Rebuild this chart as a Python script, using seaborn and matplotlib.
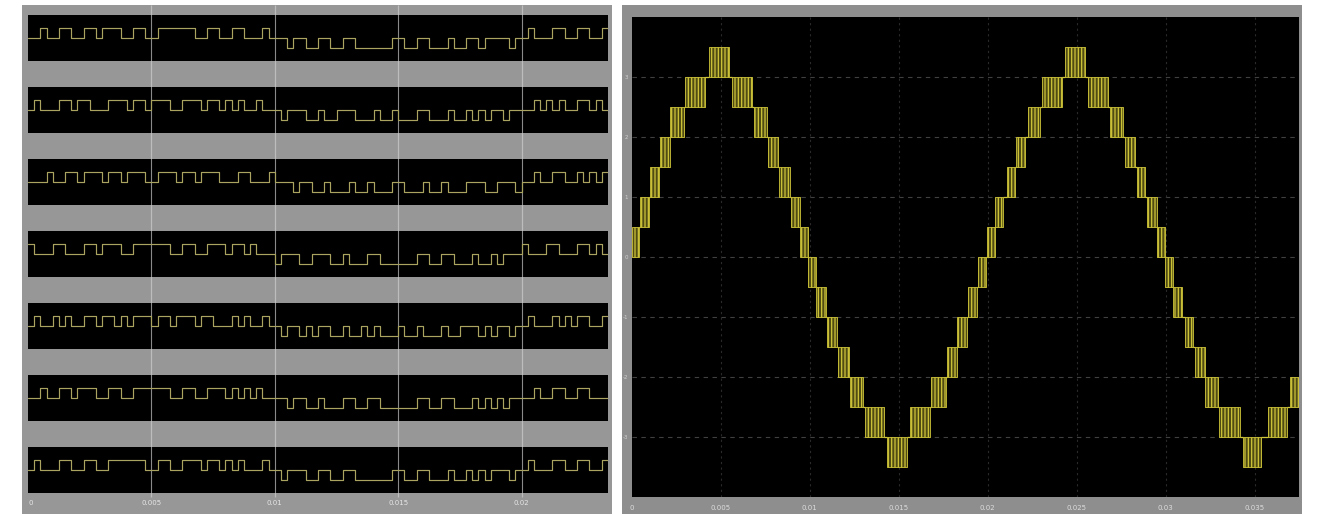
import numpy as np
import pandas as pd
import matplotlib
matplotlib.use("Agg")
import matplotlib.pyplot as plt
from matplotlib.patches import Rectangle
import seaborn as sns

# ---------------- data ----------------
# Left: seven H-bridge gate/output signals, one char per 0.25 ms slot
# '+' = +1, '0' = 0, '-' = -1
slot_ms = 0.25
gate_first_half = [
    "00+00++00++0+++00++00++++++00++00++000+0",
    "0+000++0++000+++0++0+++00+++0++0+0+00+00",
    "000+00++0+++0++0+++00+++0++0+++000++000+",
    "+000++000++0+++00++++++00++00+++0++0+000",
    "0+00+0+00++0++0+0+++0++0+++0++000+0+00+0",
    "00+00++0+++00++00++++++00++00+++0+0+0+00",
    "0+000++00++00++++++00++00+++0++0+0+000+0",
]
gate_second_half = [
    "00-00--00--00------00--00---0--00-0000-0",
    "0-000--0--000---0--0---00---0--0-0-00-00",
    "000-00--0---0--0---00---0--0---000--000-",
    "-000--000--0---00------00--00---0--0-000",
    "0-00-0-00--0--0-0---0--0---0--000-0-00-0",
    "00-00--0---00--00------00--00---0-0-0-00",
    "0-000--00--00------00--00---0--0-0-000-0",
]
gate_tail = [
    "0+000++00++00+",
    "00+0+0+00++0+0",
    "00+00++00+0+0+",
    "+000++000++0+0",
    "0+000+0+0++00+",
    "00+00++00++000",
    "0+000++00++00+",
]
left_ticks_ms = [0, 5, 10, 15, 20]
left_tick_labels = ["0", "0.005", "0.01", "0.015", "0.02"]

# Right: 15-level output voltage; each band is a PWM burst between
# band_low and band_low + 0.5 from band_start to band_end (ms)
band_start_ms = [0.00, 0.45, 1.01, 1.57, 2.13, 2.98, 4.33, 5.62, 6.85, 7.64,
                 8.26, 8.93, 9.44, 9.89, 10.34, 10.96, 11.57, 12.25, 13.09,
                 14.33, 15.62, 16.80, 17.70, 18.26, 18.88, 19.44, 19.94,
                 20.39, 21.07, 21.57, 22.25, 23.03, 24.33, 25.62, 26.85,
                 27.70, 28.37, 28.93, 29.49, 29.94, 30.39, 31.07, 31.63,
                 32.19, 33.03, 34.33, 35.73, 36.97]
band_end_ms = [0.39, 0.96, 1.52, 2.13, 2.92, 4.10, 5.45, 6.74, 7.58, 8.20,
               8.88, 9.44, 9.89, 10.34, 10.90, 11.52, 12.19, 12.98, 14.16,
               15.45, 16.74, 17.64, 18.26, 18.82, 19.38, 19.89, 20.39,
               20.84, 21.52, 22.08, 22.92, 24.16, 25.45, 26.74, 27.58,
               28.26, 28.82, 29.49, 29.94, 30.39, 30.90, 31.52, 32.19,
               32.92, 34.16, 35.39, 36.80, 37.60]
band_low = [0.0, 0.5, 1.0, 1.5, 2.0, 2.5, 3.0, 2.5, 2.0, 1.5,
            1.0, 0.5, 0.0, -0.5, -1.0, -1.5, -2.0, -2.5, -3.0,
            -3.5, -3.0, -2.5, -2.0, -1.5, -1.0, -0.5, 0.0,
            0.5, 1.0, 1.5, 2.0, 2.5, 3.0, 2.5, 2.0,
            1.5, 1.0, 0.5, 0.0, -0.5, -1.0, -1.5, -2.0,
            -2.5, -3.0, -3.5, -3.0, -2.5]
band_height = 0.5
right_ticks_ms = [0, 5, 10, 15, 20, 25, 30, 35]
right_tick_labels = ["0", "0.005", "0.01", "0.015", "0.02", "0.025", "0.03", "0.035"]
right_yticks = [-3, -2, -1, 0, 1, 2, 3]

# ---------------- style ----------------
sns.set_theme(style="dark")
plt.rcParams["font.family"] = ["DejaVu Sans"]
plt.rcParams["hatch.linewidth"] = 0.9

W, H = 1319, 514
GRAY = "#8e8e8e"
GAP_GRAY = "#979797"
TRACE = "#aaa460"
BAND = "#d0c63a"
BAND_FILL = "#4f4b12"
LABEL = "#e6e6e6"

def fx(px):
    return px / W

def fy(py):
    return 1 - py / H

fig = plt.figure(figsize=(W / 100, H / 100), dpi=100, facecolor="white")

# panel backgrounds
fig.add_artist(Rectangle((fx(22), 0), (612 - 22) / W, (514 - 5) / H,
                         transform=fig.transFigure, facecolor=GAP_GRAY,
                         edgecolor="none", zorder=0))
fig.add_artist(Rectangle((fx(622), 0), (1302 - 622) / W, (514 - 5) / H,
                         transform=fig.transFigure, facecolor=GRAY,
                         edgecolor="none", zorder=0))

# ---------------- left panel ----------------
left_xmax = 23.5
bg = fig.add_axes([fx(28), 0, 580 / W, (514 - 5) / H])
bg.set_xlim(0, left_xmax)
bg.set_ylim(514, 5)
bg.axis("off")
bg.vlines(left_ticks_ms[1:], 5, 497, color="#bdbdbd", lw=0.9, zorder=1)
for t, lab in zip(left_ticks_ms, left_tick_labels):
    bg.text(t + (0.12 if t == 0 else 0), 503, lab, ha="center", va="center",
            fontsize=5, color=LABEL)

code = {"+": 1, "0": 0, "-": -1}
for k in range(len(gate_first_half)):
    pat = gate_first_half[k] + gate_second_half[k] + gate_tail[k]
    vals = [code[c] for c in pat]
    t = np.arange(len(vals) + 1) * slot_ms
    v = vals + [vals[-1]]
    df = pd.DataFrame({"t": t, "v": v})
    top = 15 + 72 * k
    ax = fig.add_axes([fx(28), fy(top + 46), 580 / W, 46 / H])
    ax.set_facecolor("black")
    ax.vlines(left_ticks_ms[1:], -3, 3, color="#8a8a8a", lw=0.8, zorder=1)
    sns.lineplot(data=df, x="t", y="v", ax=ax, drawstyle="steps-post",
                 color=TRACE, lw=0.85, estimator=None, sort=False, zorder=3)
    ax.set_xlim(0, left_xmax)
    ax.set_ylim(-2.3, 2.3)
    ax.set_xticks([])
    ax.set_yticks([])
    ax.set_xlabel("")
    ax.set_ylabel("")
    ax.grid(False)
    for s in ax.spines.values():
        s.set_visible(False)

# ---------------- right panel ----------------
axr = fig.add_axes([fx(632), fy(497), 667 / W, 480 / H])
axr.set_facecolor("black")
axr.set_xlim(0, 37.5)
axr.set_ylim(-4, 4)
for yv in right_yticks:
    axr.axhline(yv, color="#404040", lw=0.8, ls=(0, (4, 4)), zorder=1)
for xv in right_ticks_ms[1:]:
    axr.axvline(xv, color="#2a2a2a", lw=0.8, ls=(0, (2, 3)), zorder=1)

for t0, t1, lo in zip(band_start_ms, band_end_ms, band_low):
    axr.fill_between([t0, t1], [lo, lo], [lo + band_height, lo + band_height],
                     facecolor=BAND_FILL, edgecolor=BAND, hatch="|||||",
                     linewidth=0.6, zorder=3)

for i in range(len(band_low) - 1):
    lvl = max(band_low[i], band_low[i + 1])
    axr.hlines(lvl, band_end_ms[i], band_start_ms[i + 1], color=BAND,
               lw=0.9, zorder=3)

axr.set_xticks(right_ticks_ms)
axr.set_xticklabels(right_tick_labels)
axr.set_yticks(right_yticks)
axr.set_yticklabels([str(v) for v in right_yticks])
axr.tick_params(axis="x", colors="#dcdcdc", labelsize=5, length=4, width=0.8,
                direction="out", pad=2)
axr.tick_params(axis="y", colors="#d0d0d0", labelsize=4, length=2, width=0.6,
                direction="out", pad=1)
axr.grid(False)
for s in axr.spines.values():
    s.set_visible(False)

fig.savefig("out.png", dpi=100, facecolor="white")
